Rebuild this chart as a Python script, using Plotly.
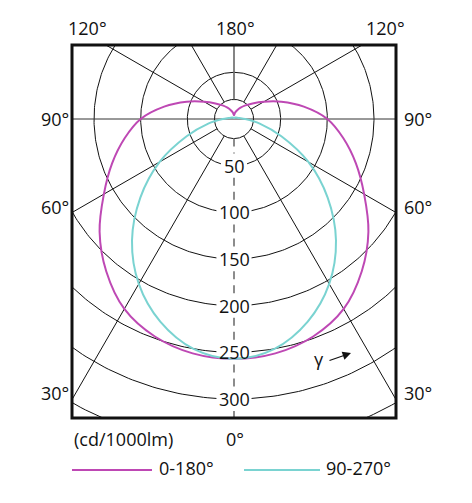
import numpy as np
import plotly.graph_objects as go

# ---------------- data ----------------
gamma_deg = [0, 10, 20, 30, 40, 50, 60, 70, 80, 90, 100, 110, 120, 130, 140, 150, 160, 170, 180]
c0_180 = [257, 255, 248, 235, 213, 188, 161, 139, 119, 100, 76, 54, 37, 26, 19, 14, 10, 7, 4]
c90_270 = [257, 250, 231, 204, 170, 131, 92, 54, 28, 12, 6, 4, 3, 2.5, 2, 1.5, 1.2, 1, 1]
series_names = ["0-180°", "90-270°"]
series_colors = ["#BE48B4", "#7AD3D1"]

ring_values = [50, 100, 150, 200, 250, 300]
outer_rings = [350]
inner_ring = 21
spoke_angles = [30, 60, 120, 150]
top_labels = ["120°", "180°", "120°"]
side_labels = ["90°", "60°", "30°"]
unit_label = "(cd/1000lm)"
zero_label = "0°"

# ---------------- geometry (page pixels) ----------------
OFF = 8  # default body margin of the html page
W, H = 472 - OFF, 503 - OFF
PX0, PX1, PY0, PY1 = 72, 396, 45, 418
CX, CY = 234, 119
K = 0.9333  # px per cd

xr = [(PX0 - CX) / K, (PX1 - CX) / K]
yr = [-(PY1 - CY) / K, (CY - PY0) / K]


def px(x):
    return (x - PX0) / (PX1 - PX0)


def py(y):
    return (PY1 - y) / (PY1 - PY0)


fig = go.Figure()
GRID = dict(color="#111111", width=1)

# rings with gaps where the value labels sit
for r in ring_values:
    half = (14 if r < 100 else 18.8)
    phi0 = np.arcsin(half / r)
    phi = np.linspace(phi0, 2 * np.pi - phi0, 400)
    fig.add_trace(go.Scatter(x=r * np.sin(phi), y=-r * np.cos(phi), mode="lines",
                             line=GRID, hoverinfo="skip", showlegend=False))
for r in outer_rings + [inner_ring]:
    phi = np.linspace(0, 2 * np.pi, 400)
    fig.add_trace(go.Scatter(x=r * np.sin(phi), y=-r * np.cos(phi), mode="lines",
                             line=GRID, hoverinfo="skip", showlegend=False))

# spokes
far = 600
for g in spoke_angles:
    gr = np.radians(g)
    for s in (-1, 1):
        fig.add_trace(go.Scatter(x=[s * inner_ring * np.sin(gr), s * far * np.sin(gr)],
                                 y=[-inner_ring * np.cos(gr), -far * np.cos(gr)],
                                 mode="lines", line=GRID, hoverinfo="skip", showlegend=False))
# 90 deg horizontal line
fig.add_trace(go.Scatter(x=[-far, far], y=[0, 0], mode="lines",
                         line=dict(color="#333333", width=1), hoverinfo="skip", showlegend=False))
# 180 deg vertical line (up)
fig.add_trace(go.Scatter(x=[0, 0], y=[inner_ring, far], mode="lines",
                         line=dict(color="#666666", width=1.6), hoverinfo="skip", showlegend=False))
# 0 deg dashed line (down), interrupted by labels
bounds = [inner_ring] + sum([[r - 13, r + 13] for r in ring_values], []) + [far]
dx, dy = [], []
for a, b in zip(bounds[0::2], bounds[1::2]):
    dx += [0, 0, None]
    dy += [-a, -b, None]
fig.add_trace(go.Scatter(x=dx, y=dy, mode="lines",
                         line=dict(color="#808080", width=1.8, dash="8px,6px"),
                         hoverinfo="skip", showlegend=False))

# intensity curves
g = np.radians(np.array(gamma_deg, dtype=float))
for vals, name, col in zip([c0_180, c90_270], series_names, series_colors):
    v = np.array(vals, dtype=float)
    xs = np.concatenate([-(v * np.sin(g))[::-1], (v * np.sin(g))[1:]])
    ys = np.concatenate([-(v * np.cos(g))[::-1], -(v * np.cos(g))[1:]])
    fig.add_trace(go.Scatter(x=xs, y=ys, mode="lines", name=name,
                             line=dict(color=col, width=2, shape="spline", smoothing=1.0),
                             hoverinfo="skip", showlegend=False))

FONT = dict(family="Open Sans", size=18, color="#111111")
ann = []


def label(x, y, text, xanchor="center"):
    ann.append(dict(x=px(x), y=py(y), xref="paper", yref="paper", text=text,
                    showarrow=False, font=FONT, xanchor=xanchor, yanchor="middle"))


for r in ring_values:
    ann.append(dict(x=0, y=-r, xref="x", yref="y", text=str(r), showarrow=False,
                    font=FONT, xanchor="center", yanchor="middle"))

for txt, x in zip(top_labels, [87, 235, 385]):
    label(x, 28, txt)
for txt, y in zip(side_labels, [119, 207, 393]):
    label(55, y, txt)
    label(418, y, txt)
label(72, 439, unit_label, "left")
label(235, 439, zero_label)
# gamma with arrow
label(319, 359, "γ")
ann.append(dict(x=px(351), y=py(353), xref="paper", yref="paper", text="",
                showarrow=True, ax=-23, ay=8, arrowhead=2, arrowsize=1.4,
                arrowwidth=1.2, arrowcolor="#111111"))

# manual legend
shapes = [dict(type="rect", xref="paper", yref="paper", x0=0, x1=1, y0=0, y1=1,
               line=dict(color="#111111", width=3))]
for (x0, x1, tx), name, col in zip([(72, 152, 157), (244, 320, 324)], series_names, series_colors):
    shapes.append(dict(type="line", xref="paper", yref="paper", x0=px(x0), x1=px(x1),
                       y0=py(470), y1=py(470), line=dict(color=col, width=2)))
    label(tx, 468, name, "left")

fig.update_layout(
    width=W, height=H,
    margin=dict(l=PX0 - OFF, r=W + OFF - PX1, t=PY0 - OFF, b=H + OFF - PY1),
    paper_bgcolor="white", plot_bgcolor="white",
    xaxis=dict(range=xr, visible=False, fixedrange=True),
    yaxis=dict(range=yr, visible=False, fixedrange=True),
    annotations=ann, shapes=shapes, showlegend=False,
)
fig.write_html("out.html")
